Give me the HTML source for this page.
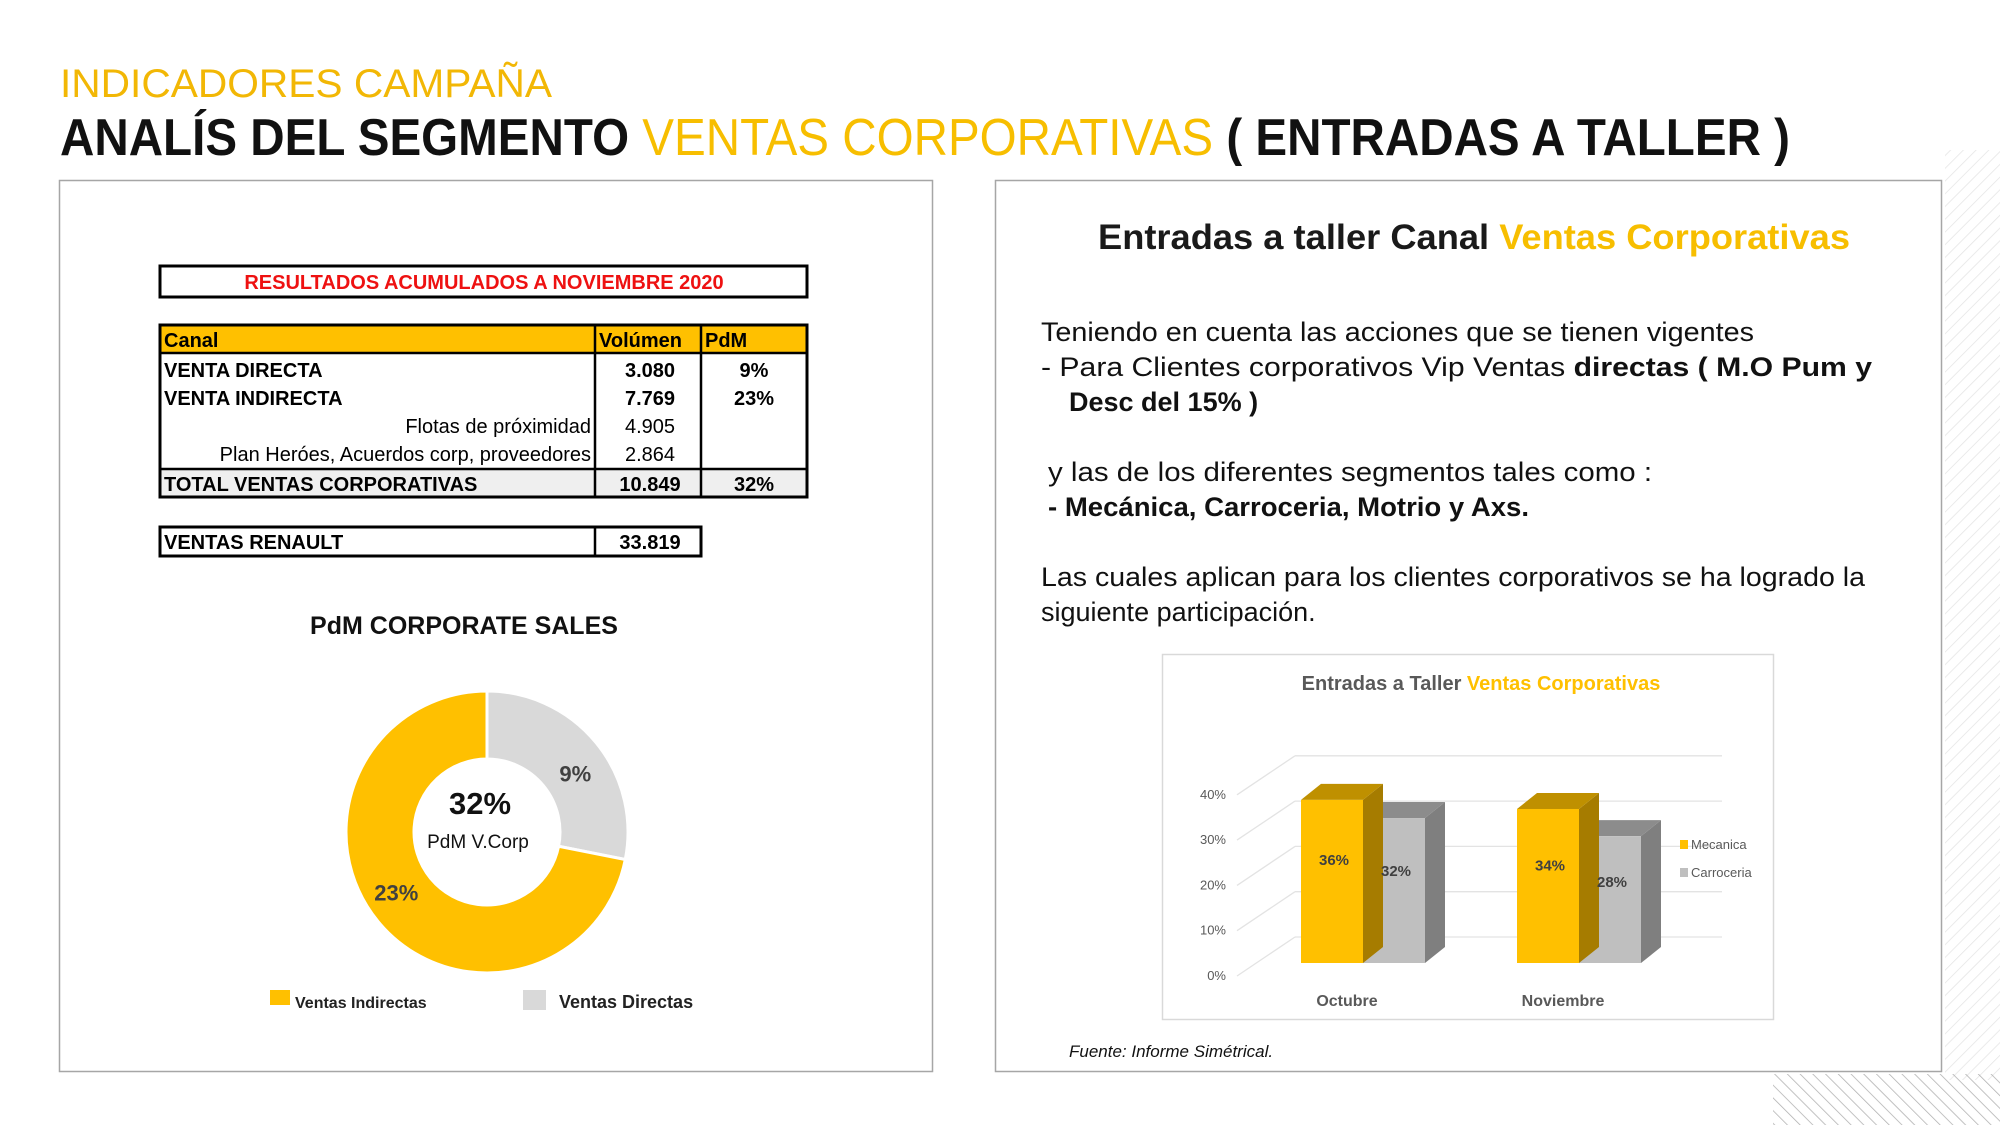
<!DOCTYPE html>
<html><head><meta charset="utf-8">
<style>
html,body{margin:0;padding:0;background:#fff;}
body{width:2000px;height:1125px;overflow:hidden;position:relative;font-family:"Liberation Sans",sans-serif;}
svg{position:absolute;left:0;top:0;}
</style></head>
<body>
<svg id="page" width="2000" height="1125" viewBox="0 0 2000 1125" xmlns="http://www.w3.org/2000/svg">
<defs>
<pattern id="stripes" width="9" height="9" patternUnits="userSpaceOnUse" patternTransform="rotate(45)">
<line x1="0" y1="0" x2="0" y2="9" stroke="#e4e4e4" stroke-width="1.5"/>
</pattern>
<pattern id="stripesDark" width="9" height="9" patternUnits="userSpaceOnUse" patternTransform="rotate(-45)">
<line x1="0" y1="0" x2="0" y2="9" stroke="#9a9a9a" stroke-width="1.5"/>
</pattern>
</defs>
<rect x="1945" y="150" width="55" height="930" fill="url(#stripes)"/>
<rect x="1773" y="1074" width="227" height="51" fill="url(#stripesDark)" opacity="0.8"/>

<text x="60" y="97" font-size="40" fill="#F2B705" textLength="492" lengthAdjust="spacingAndGlyphs">INDICADORES CAMPAÑA</text>
<text x="60" y="155" font-size="52" font-weight="bold" fill="#111" textLength="1730" lengthAdjust="spacingAndGlyphs">ANALÍS DEL SEGMENTO <tspan fill="#F7BE00" font-weight="normal">VENTAS CORPORATIVAS</tspan> ( ENTRADAS A TALLER )</text>

<rect x="59.5" y="180.5" width="873" height="891" fill="#fff" stroke="#a6a6a6" stroke-width="1.5"/>
<rect x="995.5" y="180.5" width="946" height="891" fill="#fff" stroke="#a6a6a6" stroke-width="1.5"/>

<g font-family="'Liberation Sans',sans-serif">
<rect x="160" y="266" width="647" height="31" fill="#fff" stroke="#000" stroke-width="3"/>
<text x="484" y="289" font-size="20" font-weight="bold" fill="#ee1111" text-anchor="middle">RESULTADOS ACUMULADOS A NOVIEMBRE 2020</text>
<rect x="160" y="325" width="647" height="28" fill="#FFC000"/>
<rect x="160" y="469" width="647" height="28" fill="#efefef"/>
<rect x="160" y="325" width="647" height="172" fill="none" stroke="#000" stroke-width="3"/>
<line x1="160" y1="353" x2="807" y2="353" stroke="#000" stroke-width="2.5"/>
<line x1="160" y1="469" x2="807" y2="469" stroke="#000" stroke-width="2.5"/>
<line x1="595" y1="325" x2="595" y2="497" stroke="#000" stroke-width="2.5"/>
<line x1="701" y1="325" x2="701" y2="497" stroke="#000" stroke-width="2.5"/>
<g font-size="20" font-weight="bold" fill="#000">
<text x="164" y="347">Canal</text><text x="599" y="347">Volúmen</text><text x="705" y="347">PdM</text>
<text x="164" y="377">VENTA DIRECTA</text><text x="650" y="377" text-anchor="middle">3.080</text><text x="754" y="377" text-anchor="middle">9%</text>
<text x="164" y="405">VENTA INDIRECTA</text><text x="650" y="405" text-anchor="middle">7.769</text><text x="754" y="405" text-anchor="middle">23%</text>
<text x="164" y="491">TOTAL VENTAS CORPORATIVAS</text><text x="650" y="491" text-anchor="middle">10.849</text><text x="754" y="491" text-anchor="middle">32%</text>
</g>
<g font-size="20" fill="#000">
<text x="591" y="433" text-anchor="end">Flotas de próximidad</text><text x="650" y="433" text-anchor="middle">4.905</text>
<text x="591" y="461" text-anchor="end">Plan Heróes, Acuerdos corp, proveedores</text><text x="650" y="461" text-anchor="middle">2.864</text>
</g>
<rect x="160" y="527" width="541" height="29" fill="#fff" stroke="#000" stroke-width="3"/>
<line x1="595" y1="527" x2="595" y2="556" stroke="#000" stroke-width="2.5"/>
<text x="164" y="549" font-size="20" font-weight="bold">VENTAS RENAULT</text>
<text x="650" y="549" font-size="20" font-weight="bold" text-anchor="middle">33.819</text>
</g>

<text x="464" y="634" font-size="25" font-weight="bold" text-anchor="middle" fill="#111">PdM CORPORATE SALES</text>
<g id="donut"></g>
<text x="480" y="814" font-size="31" font-weight="bold" text-anchor="middle" fill="#111">32%</text>
<text x="478" y="848" font-size="19" text-anchor="middle" fill="#111">PdM V.Corp</text>
<rect x="270" y="990" width="20" height="15" fill="#FFC000"/>
<text x="295" y="1008" font-size="16" font-weight="bold" fill="#222">Ventas Indirectas</text>
<rect x="523" y="990" width="23" height="20" fill="#d9d9d9"/>
<text x="559" y="1008" font-size="18" font-weight="bold" fill="#222">Ventas Directas</text>

<text x="1098" y="249" font-size="35" font-weight="bold" fill="#1a1a1a" textLength="752" lengthAdjust="spacingAndGlyphs">Entradas a taller Canal  <tspan fill="#F7BE00">Ventas Corporativas</tspan></text>
<g font-size="27" fill="#111">
<text x="1041" y="341" textLength="713" lengthAdjust="spacingAndGlyphs">Teniendo en cuenta las acciones que se tienen  vigentes</text>
<text x="1041" y="376" textLength="831" lengthAdjust="spacingAndGlyphs">-  Para  Clientes corporativos  Vip  Ventas <tspan font-weight="bold">directas   ( M.O  Pum y</tspan></text>
<text x="1069" y="411" font-weight="bold">Desc  del 15% )</text>
<text x="1048" y="481" textLength="604" lengthAdjust="spacingAndGlyphs">y  las de los diferentes  segmentos  tales como :</text>
<text x="1048" y="516" font-weight="bold" textLength="481" lengthAdjust="spacingAndGlyphs">- Mecánica, Carroceria, Motrio y Axs.</text>
<text x="1041" y="586" textLength="824" lengthAdjust="spacingAndGlyphs">Las cuales aplican para los clientes corporativos  se ha logrado la</text>
<text x="1041" y="621">siguiente participación.</text>
</g>
<text x="1069" y="1057" font-size="17" font-style="italic" fill="#111">Fuente: Informe Simétrical.</text>

<rect x="1162.5" y="654.5" width="611" height="365" fill="#fff" stroke="#d9d9d9" stroke-width="1.5"/>
<text x="1481" y="690" font-size="20" font-weight="bold" fill="#595959" text-anchor="middle">Entradas a Taller <tspan fill="#FFC000">Ventas Corporativas</tspan></text>
<g id="bars"></g>
<rect x="1680" y="840" width="8" height="9" fill="#FFC000"/>
<text x="1691" y="849" font-size="13" fill="#595959">Mecanica</text>
<rect x="1680" y="868" width="8" height="9" fill="#bfbfbf"/>
<text x="1691" y="877" font-size="13" fill="#595959">Carroceria</text>
</svg>
<script>
const donutLabels = ["Ventas Directas", "Ventas Indirectas"];
const donutValues = [9, 23];
const donutText = ["9%", "23%"];
const barCategories = ["Octubre", "Noviembre"];
const mecanicaValues = [36, 34];
const carroceriaValues = [32, 28];
const yTicks = [0, 10, 20, 30, 40];

const NS = "http://www.w3.org/2000/svg";
function mk(tag, attrs, parent) {
  const e = document.createElementNS(NS, tag);
  for (const k in attrs) e.setAttribute(k, attrs[k]);
  parent.appendChild(e);
  return e;
}

(function () {
  const g = document.getElementById('donut');
  const cx = 487, cy = 832, R = 141, r = 73;
  const total = donutValues.reduce((a, b) => a + b, 0);
  const colors = ["#d9d9d9", "#FFC000"];
  let a0 = 0;
  donutValues.forEach((v, i) => {
    const a1 = a0 + v / total * Math.PI * 2;
    const p = (a, rad) => [cx + rad * Math.sin(a), cy - rad * Math.cos(a)];
    const large = (a1 - a0) > Math.PI ? 1 : 0;
    const [x0, y0] = p(a0, R), [x1, y1] = p(a1, R), [x2, y2] = p(a1, r), [x3, y3] = p(a0, r);
    const path = mk('path', { d: `M${x0},${y0} A${R},${R} 0 ${large} 1 ${x1},${y1} L${x2},${y2} A${r},${r} 0 ${large} 0 ${x3},${y3} Z`, fill: colors[i], stroke: "#fff", "stroke-width": 3 }, g);
    
    
    const am = (a0 + a1) / 2 + 0.1;
    const [lx, ly] = p(am, i === 0 ? 106 : 109);
    const t = mk('text', { x: lx, y: ly + 8, "font-size": 22, "font-weight": "bold", fill: "#404040", "text-anchor": "middle" }, g);
    t.textContent = donutText[i];
    
    
    a0 = a1;
  });
})();

(function () {
  const g = document.getElementById('bars');
  const base = 963, ppu = 4.53;
  const y = v => base - v * ppu;
  const axisFront = 976;
  const fy = v => axisFront - v * ppu;
  const frontX = 1237, backX = 1295, backDy = -39, backEnd = 1722;
  yTicks.forEach(v => {
    const yy = fy(v);
    const l1 = mk('line', { x1: frontX, y1: yy, x2: backX, y2: yy + backDy, stroke: "#e3e3e3", "stroke-width": 1.3 }, g);
    
    
    const l2 = mk('line', { x1: backX, y1: yy + backDy, x2: backEnd, y2: yy + backDy, stroke: "#e3e3e3", "stroke-width": 1.3 }, g);
    
    
    const t = mk('text', { x: 1226, y: yy + 4, "font-size": 13, fill: "#595959", "text-anchor": "end" }, g);
    t.textContent = v + "%";
    
    
  });
  const groupX = [1301, 1517];
  const bw = 62, dx = 20, dy = -16;
  const series = [
    { vals: mecanicaValues, front: "#FFC000", top: "#BF9000", side: "#A67C00", name: "mecanica" },
    { vals: carroceriaValues, front: "#BFBFBF", top: "#8C8C8C", side: "#7F7F7F", name: "carroceria" }
  ];
  barCategories.forEach((cat, ci) => {
    [1, 0].forEach(si => {
      const s = series[si];
      const x0 = groupX[ci] + si * bw, x1 = x0 + bw, yt = y(s.vals[ci]);
      const side = mk('polygon', { points: `${x1},${yt} ${x1 + dx},${yt + dy} ${x1 + dx},${base + dy} ${x1},${base}`, fill: s.side }, g);
      
      
      const top = mk('polygon', { points: `${x0},${yt} ${x0 + dx},${yt + dy} ${x1 + dx},${yt + dy} ${x1},${yt}`, fill: s.top }, g);
      
      
      const front = mk('rect', { x: x0, y: yt, width: bw, height: base - yt, fill: s.front }, g);
      
      
    });
    series.forEach((s, si) => {
      const x0 = groupX[ci] + si * bw;
      const yt = y(s.vals[ci]);
      const t = mk('text', { x: x0 + bw / 2 + 2, y: yt + (base - yt) * 0.4, "font-size": 15, "font-weight": "bold", fill: "#404040", "text-anchor": "middle" }, g);
      t.textContent = s.vals[ci] + "%";
      
      
    });
    const c = mk('text', { x: groupX[ci] + bw - 16, y: 1006, "font-size": 16, "font-weight": "bold", fill: "#595959", "text-anchor": "middle" }, g);
    c.textContent = cat;
    
    
  });
})();
</script>
</body></html>
